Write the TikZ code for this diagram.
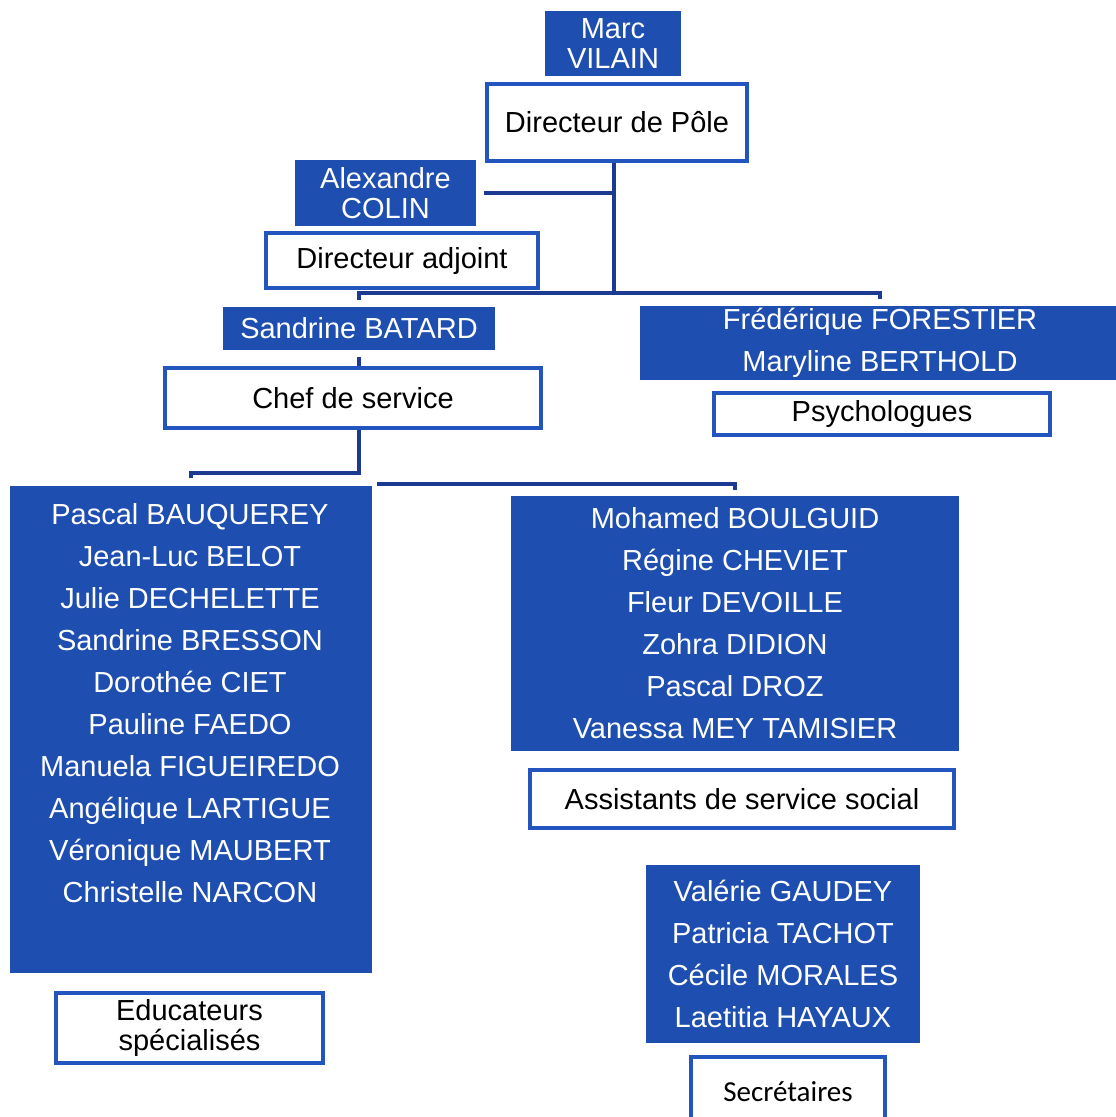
\documentclass[tikz,border=0pt]{standalone}
\usepackage{fontspec}
\setmainfont{Liberation Sans}
\newfontfamily\calibrifont{Carlito}
\definecolor{boxblue}{RGB}{30,78,175}
\definecolor{borderblue}{RGB}{35,85,190}
\definecolor{lineblue}{RGB}{28,58,145}
\begin{document}
\begin{tikzpicture}[x=1pt,y=-1pt,
  bluebox/.style={fill=boxblue, draw=none, text=white, inner sep=0pt, align=center, font=\fontsize{29}{42}\selectfont},
  whitebox/.style={draw=borderblue, line width=3.5pt, fill=white, text=black, inner sep=0pt, align=center, font=\fontsize{29}{30}\selectfont},
  tightfont/.style={font=\fontsize{29}{30}\selectfont},
  listtext/.style={text=white, inner sep=0pt, align=center, font=\fontsize{29}{42}\selectfont},
  conn/.style={draw=lineblue, line width=3.5pt}]
\clip (0,0) rectangle (1116,1117);
\fill[white] (0,0) rectangle (1116,1117);
\coordinate (j0) at (614,293);

\node[bluebox, tightfont, minimum width=136, minimum height=65] (marc) at (613,43.5) {Marc\\VILAIN};
\node[whitebox, minimum width=260, minimum height=77] (dpole) at (617,122.5) {Directeur de Pôle};
\node[bluebox, tightfont, minimum width=181, minimum height=66] (colin) at (385.5,193) {Alexandre\\COLIN};
\node[whitebox, minimum width=272, minimum height=55] (dadj) at (402,260.5) {Directeur adjoint};
\node[bluebox, minimum width=272, minimum height=43] (batard) at (359,328.5) {Sandrine BATARD};
\node[bluebox, minimum width=480, minimum height=74] (psyn) at (880,343) {Frédérique FORESTIER\\Maryline BERTHOLD};
\node[whitebox, minimum width=336, minimum height=42] (psy) at (882,414) {Psychologues};
\node[whitebox, minimum width=376, minimum height=60] (chef) at (353,398) {Chef de service};

\node[bluebox, minimum width=362, minimum height=487] (educn) at (191,729.5) {};
\node[listtext] (educnames) at (190,703.5) {Pascal BAUQUEREY\\Jean-Luc BELOT\\Julie DECHELETTE\\Sandrine BRESSON\\Dorothée CIET\\Pauline FAEDO\\Manuela FIGUEIREDO\\Angélique LARTIGUE\\Véronique MAUBERT\\Christelle NARCON};
\node[whitebox, minimum width=267, minimum height=70] (educ) at (189.5,1028) {Educateurs\\spécialisés};

\node[bluebox, minimum width=448, minimum height=255] (assn) at (735,623.5) {Mohamed BOULGUID\\Régine CHEVIET\\Fleur DEVOILLE\\Zohra DIDION\\Pascal DROZ\\Vanessa MEY TAMISIER};
\node[whitebox, minimum width=424, minimum height=58] (ass) at (742,799) {Assistants de service social};

\node[bluebox, minimum width=274, minimum height=178] (secn) at (783,954) {Valérie GAUDEY\\Patricia TACHOT\\Cécile MORALES\\Laetitia HAYAUX};
\node[whitebox, font=\calibrifont\fontsize{29}{30}\selectfont, minimum width=194, minimum height=70] (sec) at (788,1092) {Secrétaires};

% connectors
\draw[conn] (dpole.south -| j0) -- (j0);
\draw[conn] ([xshift=8pt]colin.east) -- (colin.east -| j0);
\draw[conn] ([yshift=7pt]batard.north) -- (batard.north |- j0) -- (psyn.north |- j0) -- ([yshift=7pt]psyn.north);
\draw[conn] ([yshift=-7pt]batard.south) -- (chef.north -| batard.south);
\draw[conn] (chef.south -| batard.south) |- ([yshift=13pt]educn.north) -- ([yshift=8pt]educn.north);
\draw[conn] ([xshift=5pt,yshift=2pt]educn.north east) -| ([yshift=6pt]assn.north);
\end{tikzpicture}
\end{document}
